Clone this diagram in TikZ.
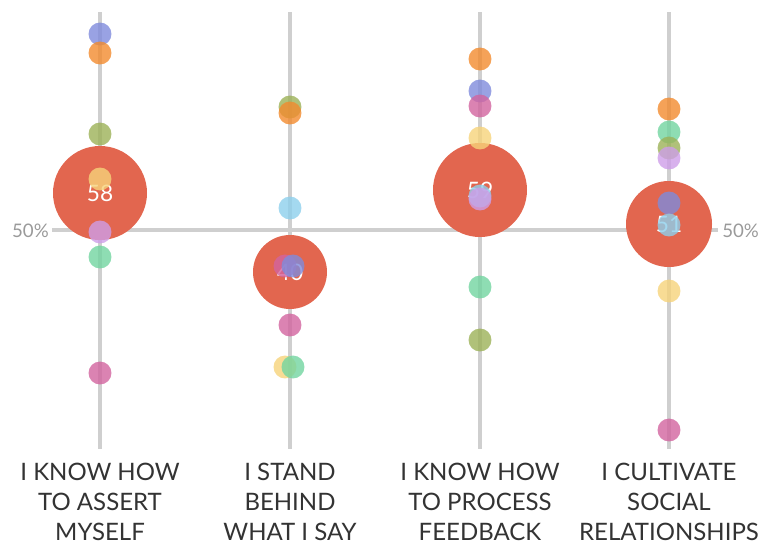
\documentclass[tikz,border=0pt]{standalone}
\usepackage{fontspec}
\setmainfont{Lato}
\usetikzlibrary{positioning}
\definecolor{GridGray}{HTML}{CFCFCF}
\definecolor{LabelInk}{HTML}{333333}
\definecolor{TickGray}{HTML}{9A9A9A}
\definecolor{BubbleRed}{HTML}{E2664F}
\definecolor{DotOrange}{HTML}{F28B2E}
\definecolor{DotBlue}{HTML}{7F8BDC}
\definecolor{DotOlive}{HTML}{9CB258}
\definecolor{DotYellow}{HTML}{F6D37A}
\definecolor{DotLilac}{HTML}{CE9EE8}
\definecolor{DotMint}{HTML}{72D5A0}
\definecolor{DotPink}{HTML}{D2649F}
\definecolor{DotSky}{HTML}{8DCFEC}
\tikzset{
  gridline/.style={draw=GridGray, line width=2.5pt},
  bubble/.style={circle, fill=BubbleRed, inner sep=0pt, text=white,
                 font=\fontsize{17}{20}\selectfont},
  dot/.style={fill opacity=0.8},
  catlabel/.style={anchor=north, align=center, inner sep=0pt, text=LabelInk,
                   font=\fontsize{18}{22.5}\selectfont},
  pctlabel/.style={inner sep=0pt, text=TickGray,
                   font=\fontsize{14}{16}\selectfont}
}

\begin{document}
\begin{tikzpicture}[x=0.75pt, y=-0.75pt]
  \useasboundingbox (0,0) rectangle (766,544);

  % axes
  \foreach \cx in {100,290,480,669}
    \draw[gridline] (\cx,12) -- (\cx,449);
  \coordinate (axisL) at (52,230);
  \coordinate (axisR) at (718,230);
  \draw[gridline] (axisL) -- (axisR);
  \node[pctlabel, anchor=east] (pctL) at (49,231) {50\%};
  \node[pctlabel, anchor=west] (pctR) at (722,231) {50\%};

  % mean bubbles
  \node[bubble, minimum size=70.5pt] (assert) at (100,193) {58};
  \node[bubble, minimum size=55.5pt] (stand) at (290,272) {40};
  \node[bubble, minimum size=70.5pt] (process) at (480,190) {59};
  \node[bubble, minimum size=64.5pt] (cultivate) at (669,224) {51};

  % single answers
  \foreach \cx/\cy/\col in {
      100/34/DotBlue, 100/53/DotOrange, 100/134/DotOlive, 100/179/DotYellow,
      100/232/DotLilac, 100/257/DotMint, 100/373/DotPink,
      290/107/DotOlive, 290/113/DotOrange, 290/208/DotSky,
      285/266/DotPink, 293/266/DotBlue, 290/325/DotPink,
      285/367/DotYellow, 293/367/DotMint,
      480/59/DotOrange, 480/91/DotBlue, 480/106/DotPink, 480/138/DotYellow,
      480/196/DotSky, 480/199/DotLilac, 480/287/DotMint, 480/340/DotOlive,
      669/109/DotOrange, 669/132/DotMint, 669/148/DotOlive, 669/158/DotLilac,
      669/203/DotBlue, 669/225/DotSky, 669/291/DotYellow, 669/430/DotPink}
    \fill[dot, \col] (\cx,\cy) circle[radius=8.6pt];

  % categories
  \node[catlabel] (lblAssert) at (100,463) {I KNOW HOW\\TO ASSERT\\MYSELF};
  \node[catlabel] (lblStand) at (290,463) {I STAND\\BEHIND\\WHAT I SAY};
  \node[catlabel] (lblProcess) at (480,463) {I KNOW HOW\\TO PROCESS\\FEEDBACK};
  \node[catlabel] (lblCultivate) at (669,463) {I CULTIVATE\\SOCIAL\\RELATIONSHIPS};
\end{tikzpicture}
\end{document}
